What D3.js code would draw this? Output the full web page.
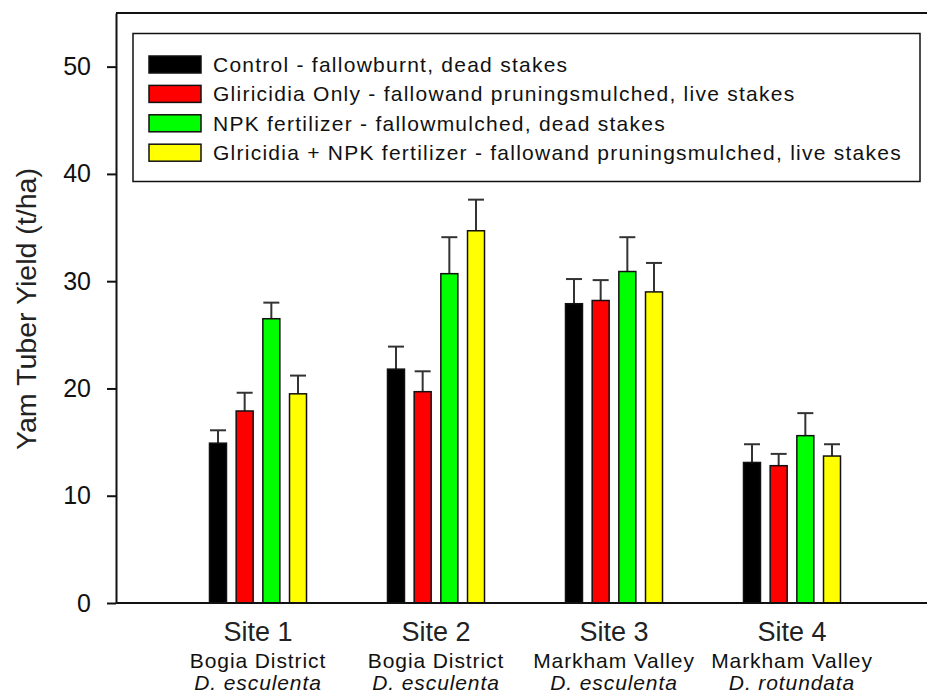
<!DOCTYPE html>
<html>
<head>
<meta charset="utf-8">
<script src="https://cdn.jsdelivr.net/npm/d3@7"></script>
<style>
  body { margin: 0; background: #fff; }
  svg text { font-family: "Liberation Sans", Arial, sans-serif; fill: #111; }
</style>
</head>
<body>
<div id="chart"></div>
<script>
// data
var sites = ["Site 1", "Site 2", "Site 3", "Site 4"];
var districts = ["Bogia District", "Bogia District", "Markham Valley", "Markham Valley"];
var species = ["D. esculenta", "D. esculenta", "D. esculenta", "D. rotundata"];

var treatments = [
    "Control - fallowburnt, dead stakes",
    "Gliricidia Only - fallowand pruningsmulched, live stakes",
    "NPK fertilizer - fallowmulched, dead stakes",
    "Glricidia + NPK fertilizer - fallowand pruningsmulched, live stakes"
];
var colors = ["#000000", "#ff0000", "#00ff00", "#ffff00"];

var control = [14.9, 21.8, 27.9, 13.1];
var controlErr = [1.2, 2.1, 2.3, 1.7];
var gliricidia = [17.9, 19.7, 28.2, 12.8];
var gliricidiaErr = [1.7, 1.9, 1.9, 1.1];
var npk = [26.5, 30.7, 30.9, 15.6];
var npkErr = [1.5, 3.4, 3.2, 2.1];
var combined = [19.5, 34.7, 29.0, 13.7];
var combinedErr = [1.7, 2.9, 2.7, 1.1];

var yTicks = [0, 10, 20, 30, 40, 50];

const width = 927;
const height = 696;
const plotLeft = 116;
const plotTop = 13;
const plotBottom = 603;

const values = [control, gliricidia, npk, combined];
const errors = [controlErr, gliricidiaErr, npkErr, combinedErr];

// flatten into one row per bar
const bars = [];
sites.forEach((s, i) => {
    treatments.forEach((t, j) => {
        bars.push({ site: s, k: j, v: values[j][i], e: errors[j][i] });
    });
});

const x = d3.scaleBand()
    .domain(sites)
    .range([169, 881]);

const xs = d3.scaleBand()
    .domain(d3.range(treatments.length))
    .range([-53.35, 53.35])
    .paddingInner(0.363)
    .paddingOuter(0.1815);

const y = d3.scaleLinear()
    .domain([0, 55])
    .range([plotBottom, plotTop]);

const svg = d3.select("#chart").append("svg")
    .attr("width", width)
    .attr("height", height)
    .attr("viewBox", [0, 0, width, height]);

const cx = d => x(d.site) + x.bandwidth() / 2 + xs(d.k);

// error bars (drawn first, bar covers the lower half)
const eb = svg.append("g")
    .attr("stroke", "#333")
    .attr("stroke-width", 2);

eb.selectAll("line.v")
    .data(bars)
    .join("line")
    .attr("class", "v")
    .attr("x1", d => cx(d) + xs.bandwidth() / 2)
    .attr("x2", d => cx(d) + xs.bandwidth() / 2)
    .attr("y1", d => y(d.v))
    .attr("y2", d => y(d.v + d.e));

eb.selectAll("line.cap")
    .data(bars)
    .join("line")
    .attr("class", "cap")
    .attr("x1", d => cx(d) + xs.bandwidth() / 2 - 8)
    .attr("x2", d => cx(d) + xs.bandwidth() / 2 + 8)
    .attr("y1", d => y(d.v + d.e))
    .attr("y2", d => y(d.v + d.e));

svg.append("g")
    .selectAll("rect")
    .data(bars)
    .join("rect")
    .attr("x", d => cx(d))
    .attr("y", d => y(d.v))
    .attr("width", xs.bandwidth())
    .attr("height", d => y(0) - y(d.v))
    .attr("fill", d => colors[d.k])
    .attr("stroke", "#111")
    .attr("stroke-width", 1.5);

// frame: left axis, top line, bottom line
svg.append("line")
    .attr("x1", plotLeft).attr("x2", width)
    .attr("y1", plotTop).attr("y2", plotTop)
    .attr("stroke", "#111").attr("stroke-width", 2);
svg.append("line")
    .attr("x1", plotLeft).attr("x2", width)
    .attr("y1", plotBottom).attr("y2", plotBottom)
    .attr("stroke", "#111").attr("stroke-width", 2);

const yAxis = svg.append("g")
    .attr("transform", `translate(${plotLeft},0)`)
    .call(d3.axisLeft(y).tickValues(yTicks).tickSize(9).tickPadding(16).tickSizeOuter(0));
yAxis.select(".domain").attr("stroke", "#111").attr("stroke-width", 2);
yAxis.selectAll(".tick line").attr("stroke", "#111").attr("stroke-width", 2);
yAxis.selectAll(".tick text")
    .attr("fill", "#222")
    .style("font-size", "25px")
    .style("font-family", "'Liberation Sans', Arial, sans-serif");

svg.append("text")
    .attr("transform", "translate(36,309) rotate(-90)")
    .attr("text-anchor", "middle")
    .style("font-size", "27px")
    .style("fill", "#222")
    .attr("textLength", 282)
    .attr("lengthAdjust", "spacingAndGlyphs")
    .text("Yam Tuber Yield (t/ha)");

// x category labels, three lines each
const xl = svg.append("g")
    .selectAll("g")
    .data(sites)
    .join("g")
    .attr("transform", d => `translate(${x(d) + x.bandwidth() / 2},0)`)
    .attr("text-anchor", "middle");

xl.append("text")
    .attr("y", 641)
    .style("font-size", "27px")
    .style("fill", "#222")
    .text(d => d);
xl.append("text")
    .attr("y", 668)
    .style("font-size", "21px")
    .style("letter-spacing", "0.9px")
    .text((d, i) => districts[i]);
xl.append("text")
    .attr("y", 690)
    .style("font-size", "21px")
    .style("letter-spacing", "0.9px")
    .style("font-style", "italic")
    .text((d, i) => species[i]);

// legend
const legend = svg.append("g");
legend.append("rect")
    .attr("x", 133).attr("y", 33.5)
    .attr("width", 787).attr("height", 148)
    .attr("fill", "#fff")
    .attr("stroke", "#111")
    .attr("stroke-width", 1.5);

const item = legend.selectAll("g")
    .data(treatments)
    .join("g")
    .attr("transform", (d, i) => `translate(149,${64.5 + i * 29.4})`);

item.append("rect")
    .attr("x", 0).attr("y", -8.5)
    .attr("width", 52).attr("height", 17)
    .attr("fill", (d, i) => colors[i])
    .attr("stroke", "#111")
    .attr("stroke-width", 1.5);

item.append("text")
    .attr("x", 64)
    .attr("y", 7.5)
    .style("font-size", "21px")
    .style("letter-spacing", "1.25px")
    .text(d => d);
</script>
</body>
</html>
